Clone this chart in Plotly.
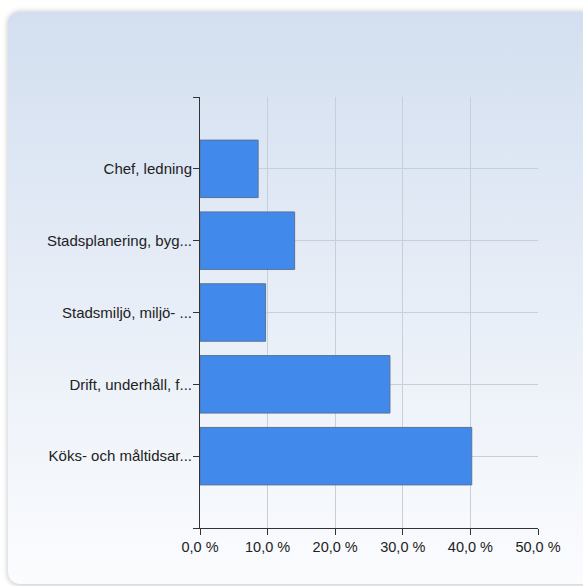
import base64
import plotly.graph_objects as go

# Survey answers (share of respondents, %)
categories = [
    "Chef, ledning",
    "Stadsplanering, byg...",
    "Stadsmiljö, miljö- ...",
    "Drift, underhåll, f...",
    "Köks- och måltidsar...",
]
values = [8.6, 14.0, 9.7, 28.1, 40.2]
x_ticks = [0, 10, 20, 30, 40, 50]
x_tick_labels = ["0,0 %", "10,0 %", "20,0 %", "30,0 %", "40,0 %", "50,0 %"]

W, H = 583, 586
L, R, T, B = 200, 45, 97, 58
pw, ph = W - L - R, H - T - B

# Rounded panel with a soft vertical gradient and faint shadow
svg = f"""<svg xmlns='http://www.w3.org/2000/svg' width='{W}' height='{H}' viewBox='0 0 {W} {H}'>
<defs>
<linearGradient id='g' x1='0' y1='0' x2='0' y2='1'>
<stop offset='0' stop-color='#d3dff0'/>
<stop offset='1' stop-color='#fbfcfe'/>
</linearGradient>
<filter id='s' x='-5%' y='-5%' width='110%' height='110%'>
<feGaussianBlur stdDeviation='2.5'/>
</filter>
</defs>
<rect x='7' y='11' width='600' height='575' rx='13' fill='#d0d0d0' filter='url(#s)'/>
<rect x='8' y='12' width='600' height='572' rx='12' fill='url(#g)'/>
</svg>"""
src = "data:image/svg+xml;base64," + base64.b64encode(svg.encode()).decode()

pos = list(range(1, len(categories) + 1))

fig = go.Figure(
    go.Bar(
        x=values,
        y=pos,
        orientation="h",
        width=0.8,
        marker=dict(color="#4289ec", line=dict(color="#5a7396", width=1)),
        hoverinfo="skip",
    )
)

FONT = "Liberation Sans, Arial, sans-serif"

fig.update_layout(
    width=W,
    height=H,
    margin=dict(l=L, r=R, t=T, b=B),
    paper_bgcolor="white",
    plot_bgcolor="rgba(0,0,0,0)",
    showlegend=False,
    font=dict(family=FONT, size=15, color="#222222"),
    images=[
        dict(
            source=src,
            xref="paper",
            yref="paper",
            x=-L / pw,
            y=(H - B) / ph,
            sizex=W / pw,
            sizey=H / ph,
            sizing="stretch",
            xanchor="left",
            yanchor="top",
            layer="below",
        )
    ],
)

fig.update_xaxes(
    range=[0, 50],
    tickvals=x_ticks,
    ticktext=x_tick_labels,
    ticks="outside",
    ticklen=6,
    tickcolor="#333333",
    showline=True,
    linecolor="#333333",
    linewidth=1,
    showgrid=True,
    gridcolor="#c9cfd8",
    gridwidth=1,
    zeroline=False,
    tickfont=dict(family=FONT, size=14.5, color="#222222"),
)

fig.update_yaxes(
    range=[6, 0],
    tickvals=[0] + pos + [6],
    ticktext=[""] + categories + [""],
    ticks="outside",
    ticklen=6,
    tickcolor="#333333",
    showline=True,
    linecolor="#333333",
    linewidth=1,
    showgrid=True,
    gridcolor="#c9cfd8",
    gridwidth=1,
    zeroline=False,
    ticklabelstandoff=-2,
    tickfont=dict(family=FONT, size=15, color="#222222"),
)

fig.write_html("out.html")
